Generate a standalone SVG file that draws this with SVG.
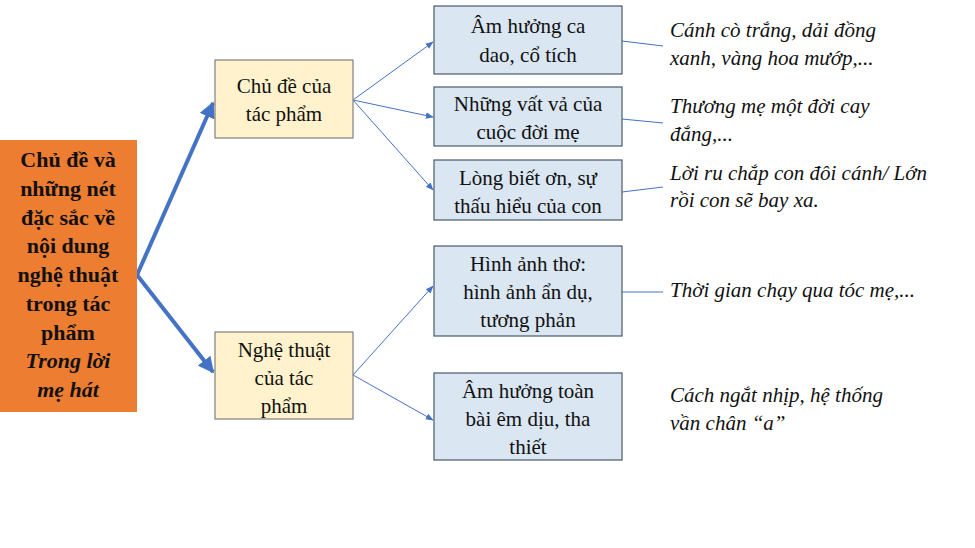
<svg xmlns="http://www.w3.org/2000/svg" width="975" height="548" viewBox="0 0 975 548">
<defs>
<style>
.t{font-family:"Liberation Serif","DejaVu Serif",serif;font-size:21px;fill:#111;text-anchor:middle}
.m{font-family:"Liberation Serif","DejaVu Serif",serif;font-size:21px;fill:#111;font-style:italic}
.b{font-family:"Liberation Serif","DejaVu Serif",serif;font-size:22px;font-weight:bold;fill:#111;text-anchor:middle}
.y{fill:#fff2cc;stroke:#7f7f7f;stroke-width:1.2}
.c{fill:#dae6f2;stroke:#4a5a6a;stroke-width:1.2}
.thin{stroke:#4472c4;stroke-width:1;fill:none}
.thick{stroke:#4472c4;stroke-width:4;fill:none}
</style>
<marker id="a" viewBox="0 0 10 10" refX="9" refY="5" markerWidth="8" markerHeight="8" markerUnits="userSpaceOnUse" orient="auto"><path d="M0,1 L10,5 L0,9 z" fill="#4472c4"/></marker>
<marker id="A" viewBox="0 0 10 10" refX="9" refY="5" markerWidth="4" markerHeight="4" orient="auto"><path d="M0,0 L10,5 L0,10 z" fill="#4472c4"/></marker>
</defs>
<g id="connectors">
<path class="thick" d="M137,275 L213,103" marker-end="url(#A)"/>
<path class="thick" d="M137,275 L213,372" marker-end="url(#A)"/>
<path class="thin" d="M353,100 L433,42" marker-end="url(#a)"/>
<path class="thin" d="M353,100 L433,117" marker-end="url(#a)"/>
<path class="thin" d="M353,100 L433,190" marker-end="url(#a)"/>
<path class="thin" d="M353,375 L433,286" marker-end="url(#a)"/>
<path class="thin" d="M353,375 L433,420" marker-end="url(#a)"/>
<path class="thin" d="M622,41 L663,46"/>
<path class="thin" d="M622,119 L663,123"/>
<path class="thin" d="M622,192 L663,187"/>
<path class="thin" d="M622,292 L663,292"/>
</g>
<g id="root"><rect x="0" y="140" width="137" height="272" fill="#ed7d31"/>
<text class="b" x="68" y="167">Chủ đề và</text>
<text class="b" x="68" y="196">những nét</text>
<text class="b" x="68" y="225">đặc sắc về</text>
<text class="b" x="68" y="253">nội dung</text>
<text class="b" x="68" y="282">nghệ thuật</text>
<text class="b" x="68" y="311">trong tác</text>
<text class="b" x="68" y="340">phẩm</text>
<text class="b" x="68" y="368" font-style="italic">Trong lời</text>
<text class="b" x="68" y="397" font-style="italic">mẹ hát</text></g>
<g id="chude"><rect class="y" x="215" y="60" width="138" height="78"/>
<text class="t" x="284" y="93">Chủ đề của</text><text class="t" x="284" y="121">tác phẩm</text></g>
<g id="nghethuat"><rect class="y" x="215" y="332" width="138" height="87"/>
<text class="t" x="284" y="357">Nghệ thuật</text><text class="t" x="284" y="385">của tác</text><text class="t" x="284" y="413">phẩm</text></g>
<g id="b1"><rect class="c" x="434" y="6" width="188" height="68"/>
<text class="t" x="528" y="33">Âm hưởng ca</text><text class="t" x="528" y="62">dao, cổ tích</text></g>
<g id="b2"><rect class="c" x="434" y="87" width="188" height="59"/>
<text class="t" x="528" y="111">Những vất vả của</text><text class="t" x="528" y="139">cuộc đời mẹ</text></g>
<g id="b3"><rect class="c" x="434" y="160" width="188" height="60"/>
<text class="t" x="528" y="185">Lòng biết ơn, sự</text><text class="t" x="528" y="213">thấu hiểu của con</text></g>
<g id="b4"><rect class="c" x="434" y="246" width="188" height="90"/>
<text class="t" x="528" y="271">Hình ảnh thơ:</text><text class="t" x="528" y="299">hình ảnh ẩn dụ,</text><text class="t" x="528" y="327">tương phản</text></g>
<g id="b5"><rect class="c" x="434" y="373" width="188" height="87"/>
<text class="t" x="528" y="398">Âm hưởng toàn</text><text class="t" x="528" y="426">bài êm dịu, tha</text><text class="t" x="528" y="454">thiết</text></g>
<g id="notes">
<text class="m" x="670" y="37">Cánh cò trắng, dải đồng</text>
<text class="m" x="670" y="65">xanh, vàng hoa mướp,...</text>
<text class="m" x="670" y="113">Thương mẹ một đời cay</text>
<text class="m" x="670" y="141">đắng,...</text>
<text class="m" x="670" y="180">Lời ru chắp con đôi cánh/ Lớn</text>
<text class="m" x="670" y="207">rồi con sẽ bay xa.</text>
<text class="m" x="670" y="297">Thời gian chạy qua tóc mẹ,...</text>
<text class="m" x="670" y="402" font-style="normal">Cách ngắt nhịp, hệ thống</text>
<text class="m" x="670" y="430" font-style="normal">vần chân “a”</text>
</g>
</svg>
